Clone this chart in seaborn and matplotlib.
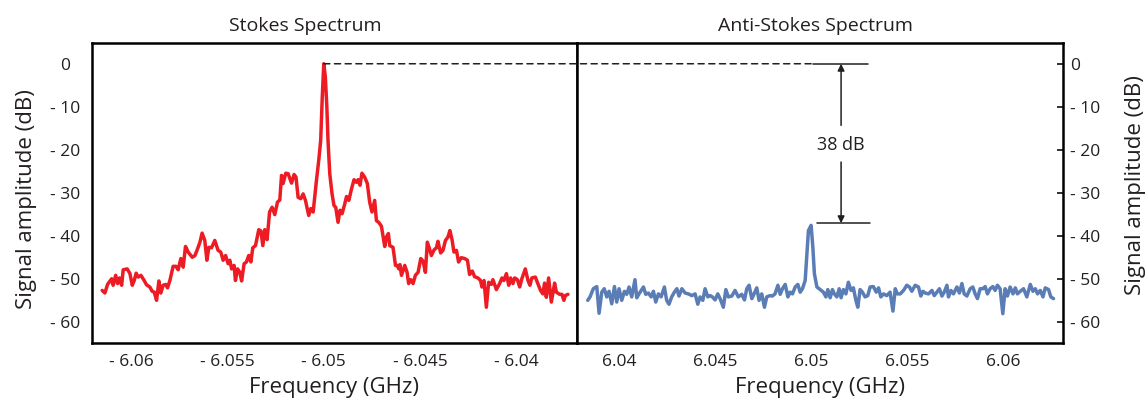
import matplotlib
matplotlib.use("Agg")
import numpy as np
import pandas as pd
import seaborn as sns
import matplotlib.pyplot as plt
from matplotlib.patches import ConnectionPatch

# Stokes spectrum: detuning from -6.05 GHz (MHz) and amplitude (dB)
stokes_offset_mhz = [
    -11.49, -11.35, -11.21, -11.00, -10.92, -10.79, -10.69, -10.59, -10.48, -10.40,
    -10.19, -10.05, -9.93, -9.83, -9.73, -9.62, -9.48, -9.31, -9.19, -9.02,
    -8.90, -8.79, -8.67, -8.55, -8.45, -8.33, -8.20, -8.10, -7.98, -7.81,
    -7.67, -7.55, -7.41, -7.29, -7.17, -7.03, -6.82, -6.68, -6.54, -6.42,
    -6.31, -6.17, -6.06, -5.96, -5.82, -5.65, -5.48, -5.34, -5.22, -5.09,
    -4.96, -4.87, -4.78, -4.65, -4.58, -4.47, -4.35, -4.26, -4.13, -4.01,
    -3.89, -3.78, -3.68, -3.54, -3.37, -3.26, -3.16, -3.06, -2.94, -2.81,
    -2.68, -2.54, -2.40, -2.28, -2.19, -2.11, -1.97, -1.85, -1.67, -1.54,
    -1.44, -1.33, -1.19, -1.07, -0.95, -0.78, -0.67, -0.55, -0.38, -0.26,
    -0.16, -0.08, 0.00, 0.08, 0.16, 0.22, 0.31, 0.43, 0.53, 0.62,
    0.74, 0.84, 0.95, 1.09, 1.18, 1.30, 1.44, 1.57, 1.69, 1.78,
    1.88, 1.98, 2.12, 2.26, 2.38, 2.50, 2.64, 2.73, 2.85, 2.99,
    3.16, 3.25, 3.35, 3.42, 3.59, 3.72, 3.82, 3.89, 3.95, 4.03,
    4.20, 4.32, 4.40, 4.51, 4.63, 4.75, 4.89, 5.03, 5.15, 5.27,
    5.37, 5.48, 5.58, 5.72, 5.84, 5.92, 6.06, 6.18, 6.31, 6.44,
    6.54, 6.65, 6.75, 6.88, 6.99, 7.13, 7.31, 7.45, 7.56, 7.70,
    7.82, 7.99, 8.13, 8.20, 8.31, 8.43, 8.55, 8.69, 8.77, 8.95,
    9.12, 9.24, 9.34, 9.47, 9.59, 9.69, 9.81, 9.90, 10.04, 10.16,
    10.27, 10.45, 10.59, 10.69, 10.79, 10.97, 11.10, 11.24, 11.36, 11.45,
    11.54, 11.66, 11.80, 11.97, 12.06, 12.23, 12.35, 12.45, 12.52, 12.66,
]
stokes_db = [
    -52.6, -53.2, -51.2, -49.9, -51.4, -49.1, -51.0, -49.7, -51.4, -47.8,
    -47.6, -48.7, -51.4, -50.3, -48.6, -49.5, -49.1, -50.3, -51.3, -51.8,
    -52.8, -53.0, -54.9, -50.4, -53.2, -51.4, -51.2, -52.0, -50.3, -47.0,
    -47.0, -47.8, -45.2, -47.2, -42.4, -43.7, -44.9, -44.5, -42.9, -41.4,
    -39.3, -41.0, -45.6, -42.6, -42.7, -41.0, -43.3, -43.7, -45.6, -44.5,
    -46.4, -45.6, -47.6, -46.8, -50.3, -47.6, -48.4, -50.4, -46.4, -46.0,
    -44.5, -46.0, -42.7, -42.2, -38.5, -38.8, -42.2, -38.5, -40.8, -34.4,
    -33.3, -35.0, -32.1, -31.6, -25.9, -27.8, -25.4, -25.5, -27.7, -25.7,
    -26.3, -31.0, -31.3, -30.2, -31.7, -35.2, -33.6, -34.4, -27.1, -22.4,
    -17.8, -8.0, 0.0, -3.0, -10.0, -17.8, -25.5, -30.2, -32.9, -33.3,
    -36.8, -34.0, -34.8, -32.5, -30.8, -31.7, -29.0, -26.9, -27.5, -26.9,
    -28.2, -25.4, -26.3, -27.8, -32.1, -34.4, -31.7, -36.4, -36.8, -37.7,
    -42.4, -40.2, -39.4, -42.2, -42.6, -46.8, -46.8, -47.6, -46.6, -49.1,
    -46.8, -48.4, -51.0, -50.1, -51.0, -49.1, -48.4, -45.2, -45.8, -48.4,
    -41.4, -42.9, -44.5, -43.2, -42.7, -41.2, -43.9, -43.3, -41.0, -40.2,
    -38.7, -40.8, -43.7, -43.3, -46.0, -45.0, -45.2, -45.6, -48.9, -48.1,
    -49.4, -49.7, -50.3, -51.8, -50.3, -56.5, -50.7, -51.2, -50.1, -52.4,
    -51.0, -49.7, -50.3, -48.7, -51.4, -49.7, -51.0, -49.7, -50.1, -51.8,
    -49.9, -47.6, -50.3, -51.4, -49.7, -49.5, -51.0, -52.6, -53.4, -50.9,
    -54.2, -49.7, -55.3, -50.9, -53.0, -53.5, -53.5, -54.9, -53.8, -53.5,
]

# Anti-Stokes spectrum: detuning from +6.05 GHz (MHz) and amplitude (dB)
anti_offset_mhz = [
    -11.63, -11.51, -11.34, -11.16, -11.04, -10.90, -10.77, -10.64, -10.52, -10.38,
    -10.24, -10.12, -10.00, -9.86, -9.72, -9.60, -9.48, -9.34, -9.17, -9.08,
    -8.96, -8.73, -8.61, -8.47, -8.33, -8.21, -8.09, -7.95, -7.81, -7.64,
    -7.52, -7.40, -7.26, -7.12, -6.99, -6.88, -6.73, -6.56, -6.39, -6.21,
    -6.04, -5.90, -5.78, -5.64, -5.52, -5.38, -5.26, -5.14, -5.00, -4.86,
    -4.74, -4.57, -4.44, -4.31, -4.13, -3.96, -3.79, -3.61, -3.47, -3.35,
    -3.23, -3.09, -2.97, -2.83, -2.71, -2.57, -2.43, -2.31, -2.14, -2.02,
    -1.88, -1.73, -1.61, -1.49, -1.35, -1.21, -1.09, -0.97, -0.83, -0.69,
    -0.57, -0.45, -0.31, -0.22, -0.14, 0.00, 0.09, 0.17, 0.30, 0.47,
    0.64, 0.77, 0.87, 0.99, 1.11, 1.21, 1.34, 1.46, 1.56, 1.68,
    1.81, 1.94, 2.08, 2.20, 2.33, 2.43, 2.55, 2.67, 2.81, 2.95,
    3.07, 3.24, 3.39, 3.51, 3.63, 3.77, 3.94, 4.11, 4.26, 4.38,
    4.49, 4.64, 4.81, 4.98, 5.12, 5.24, 5.42, 5.59, 5.71, 5.82,
    5.94, 6.11, 6.29, 6.41, 6.55, 6.68, 6.81, 6.93, 7.07, 7.15,
    7.28, 7.41, 7.59, 7.72, 7.85, 7.97, 8.11, 8.28, 8.42, 8.54,
    8.66, 8.80, 8.94, 9.06, 9.18, 9.32, 9.46, 9.58, 9.70, 9.84,
    9.98, 10.10, 10.22, 10.36, 10.51, 10.63, 10.74, 10.89, 11.06, 11.23,
    11.41, 11.55, 11.67, 11.79, 11.93, 12.07, 12.19, 12.36, 12.48, 12.62,
]
anti_db = [
    -54.9, -54.1, -52.2, -51.7, -57.9, -53.0, -52.2, -54.1, -52.8, -55.7,
    -51.7, -55.3, -52.2, -54.9, -52.8, -53.5, -51.8, -54.1, -50.1, -54.3,
    -53.4, -51.8, -53.5, -53.2, -54.1, -52.8, -55.3, -53.4, -54.1, -51.8,
    -54.9, -55.8, -54.1, -53.0, -52.2, -53.9, -52.2, -53.2, -53.4, -53.8,
    -53.4, -55.8, -54.1, -54.9, -52.2, -54.1, -53.8, -54.1, -54.8, -53.4,
    -54.5, -56.5, -52.4, -54.1, -53.9, -52.6, -54.1, -53.5, -54.8, -52.2,
    -51.4, -54.5, -53.4, -52.0, -54.9, -53.4, -56.5, -54.1, -53.8, -53.9,
    -53.4, -51.4, -53.5, -52.2, -51.2, -54.1, -53.0, -53.4, -51.8, -51.2,
    -53.0, -52.2, -50.3, -44.1, -38.7, -37.5, -42.6, -48.7, -51.8, -52.4,
    -53.0, -54.1, -52.4, -54.3, -52.4, -53.4, -54.1, -52.2, -54.3, -52.4,
    -53.4, -50.7, -52.6, -52.0, -54.9, -56.5, -52.4, -53.0, -54.1, -53.8,
    -51.8, -51.7, -53.0, -52.0, -54.1, -53.4, -53.8, -53.0, -57.4, -52.2,
    -53.4, -53.4, -52.6, -51.4, -51.8, -52.8, -51.4, -51.8, -53.9, -52.8,
    -53.2, -53.4, -52.6, -53.8, -53.0, -52.2, -53.9, -53.0, -51.4, -54.1,
    -52.6, -53.4, -51.8, -53.2, -51.0, -53.4, -53.9, -52.2, -51.8, -53.4,
    -54.5, -52.2, -52.2, -51.7, -53.4, -52.2, -51.7, -52.6, -51.4, -52.2,
    -58.0, -52.2, -53.9, -51.8, -53.4, -52.0, -53.4, -52.8, -52.2, -54.1,
    -51.2, -52.8, -52.2, -53.4, -52.6, -54.1, -52.0, -52.4, -54.1, -54.5,
]

center_ghz = 6.05
stokes_xticks = [-6.06, -6.055, -6.05, -6.045, -6.04]
stokes_xticklabels = ["- 6.06", "- 6.055", "- 6.05", "- 6.045", "- 6.04"]
anti_xticks = [6.04, 6.045, 6.05, 6.055, 6.06]
anti_xticklabels = ["6.04", "6.045", "6.05", "6.055", "6.06"]
yticks = [0, -10, -20, -30, -40, -50, -60]
yticklabels = ["0", "- 10", "- 20", "- 30", "- 40", "- 50", "- 60"]
ratio_db = 38
anti_peak_db = -37

stokes = pd.DataFrame({"freq": -center_ghz + np.array(stokes_offset_mhz) / 1000,
                       "amp": stokes_db})
anti = pd.DataFrame({"freq": center_ghz + np.array(anti_offset_mhz) / 1000,
                     "amp": anti_db})

sns.set_style("white")
plt.rcParams["font.family"] = ["Open Sans", "DejaVu Sans"]
plt.rcParams["axes.linewidth"] = 1.8
plt.rcParams["axes.edgecolor"] = "black"

ink = "#231f20"
fig = plt.figure(figsize=(11.48, 4.01), dpi=100)
ax1 = fig.add_axes([0.0801, 0.1446, 0.4225, 0.748])
ax2 = fig.add_axes([0.5026, 0.1446, 0.4233, 0.748])

sns.lineplot(data=stokes, x="freq", y="amp", ax=ax1, color="#ED1C24", lw=2.5)
sns.lineplot(data=anti, x="freq", y="amp", ax=ax2, color="#5B7DB5", lw=2.5)

for ax in (ax1, ax2):
    ax.set_ylim(-64.8, 4.8)
    ax.set_xlabel("Frequency (GHz)", fontsize=16, labelpad=5, color=ink)
    ax.tick_params(axis="x", direction="in", length=5, width=1.3, pad=8,
                   labelsize=12.5, colors=ink, top=False)
    ax.tick_params(axis="y", direction="in", length=4, width=1.3,
                   labelsize=12.5, colors=ink)
    for sp in ax.spines.values():
        sp.set_color("black")

ax1.set_xlim(-6.06202, -6.03687)
ax2.set_xlim(6.03781, 6.06311)
ax1.set_xticks(stokes_xticks)
ax1.set_xticklabels(stokes_xticklabels)
ax2.set_xticks(anti_xticks)
ax2.set_xticklabels(anti_xticklabels)

ax1.set_yticks(yticks)
ax1.set_yticklabels(yticklabels, ha="center")
ax1.tick_params(axis="y", pad=19, right=False)
ax1.set_ylabel("Signal amplitude (dB)", fontsize=16, color=ink)
ax1.yaxis.set_label_coords(-0.113, 0.48)

ax2.yaxis.tick_right()
ax2.set_yticks(yticks)
ax2.set_yticklabels(yticklabels)
ax2.tick_params(axis="y", pad=5, left=False)
ax2.yaxis.set_label_position("right")
ax2.set_ylabel("Signal amplitude (dB)", fontsize=16, color=ink)
ax2.yaxis.set_label_coords(1.127, 0.527)

ax1.set_title("Stokes Spectrum", fontsize=14, pad=9, color=ink, x=0.44)
ax2.set_title("Anti-Stokes Spectrum", fontsize=14, pad=9, color=ink, x=0.49)

# dashed reference line at the Stokes peak, running into the right panel
con = ConnectionPatch(xyA=(-center_ghz, 0), coordsA=ax1.transData,
                      xyB=(center_ghz + 0.00012, 0), coordsB=ax2.transData,
                      linestyle=(0, (4, 3)), color=ink, lw=1.1)
fig.add_artist(con)

# 38 dB difference marker
ax2.plot([center_ghz + 0.00012, center_ghz + 0.00295], [0, 0], color=ink, lw=1.1)
ax2.plot([center_ghz + 0.00033, center_ghz + 0.00307], [anti_peak_db, anti_peak_db],
         color=ink, lw=1.1)
arrow_x = center_ghz + 0.00156
ax2.annotate("", xy=(arrow_x, 0), xytext=(arrow_x, -14.3),
             arrowprops=dict(arrowstyle="-|>", color=ink, lw=1.1,
                             mutation_scale=10, shrinkA=0, shrinkB=0))
ax2.annotate("", xy=(arrow_x, anti_peak_db), xytext=(arrow_x, -22.8),
             arrowprops=dict(arrowstyle="-|>", color=ink, lw=1.1,
                             mutation_scale=10, shrinkA=0, shrinkB=0))
ax2.text(arrow_x, -18.8, f"{ratio_db} dB", ha="center", va="center",
         fontsize=13, color=ink)

fig.savefig("out.png", dpi=100)
